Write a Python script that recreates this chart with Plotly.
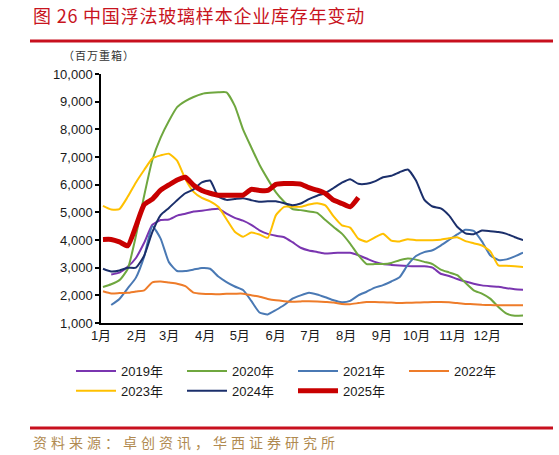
import pandas as pd
import plotly.graph_objects as go

# weekly sample-inventory readings (million weight boxes), one list per year
weeks = pd.date_range("2021-01-02 17:00", periods=52, freq="171h")

inv_2019 = [None, 2750, 2820, 3030, 3350, 3900, 4550, 4720, 4740, 4880, 4950, 5030, 5060, 5100,
            5130, 4950, 4800, 4700, 4550, 4350, 4220, 4150, 4100, 3920, 3720, 3620, 3570, 3510,
            3530, 3540, 3540, 3450, 3330, 3210, 3130, 3100, 3080, 3060, 3050, 3050, 3000, 2780,
            2700, 2590, 2500, 2420, 2360, 2330, 2310, 2260, 2220, 2200]
inv_2020 = [2300, 2400, 2550, 2950, 4150, 5600, 6900, 7700, 8300, 8800, 9020, 9170, 9280, 9320,
            9340, 9340, 8850, 8000, 7350, 6720, 6200, 5720, 5380, 5120, 5080, 5030, 4980, 4720,
            4470, 4230, 3870, 3450, 3130, 3130, 3130, 3170, 3270, 3330, 3290, 3210, 3130, 2930,
            2830, 2730, 2450, 2180, 2060, 1880, 1580, 1340, 1260, 1270]
inv_2021 = [None, 1650, 1870, 2250, 2640, 3400, 4500, 4050, 3200, 2880, 2880, 2930, 2990, 2960,
            2680, 2480, 2320, 2190, 1800, 1380, 1310, 1470, 1650, 1880, 2000, 2090, 2030, 1930,
            1820, 1750, 1800, 2000, 2130, 2280, 2370, 2500, 2650, 3100, 3420, 3560, 3630, 3800,
            4000, 4200, 4370, 4330, 3950, 3450, 3280, 3300, 3410, 3540]
inv_2022 = [2150, 2070, 2080, 2090, 2140, 2180, 2470, 2500, 2460, 2420, 2330, 2100, 2060, 2050,
            2040, 2060, 2060, 2060, 2000, 1950, 1870, 1820, 1790, 1770, 1780, 1790, 1780, 1760,
            1740, 1690, 1680, 1720, 1760, 1760, 1750, 1740, 1720, 1730, 1740, 1750, 1760, 1760,
            1750, 1720, 1690, 1680, 1660, 1650, 1640, 1640, 1640, 1640]
inv_2023 = [5230, 5100, 5120, 5560, 6080, 6530, 6950, 7060, 7120, 6870, 6200, 5740, 5520, 5400,
            5200, 4750, 4300, 4120, 4270, 4200, 4080, 4900, 5200, 5200, 5200, 5280, 5330, 5250,
            4850, 4530, 4450, 4050, 3940, 4090, 4230, 3980, 3950, 4030, 3990, 3990, 3990, 4010,
            4060, 4100, 3960, 3880, 3800, 3600, 3080, 3070, 3050, 3020]
inv_2024 = [2960, 2860, 2900, 3000, 3000, 3430, 4290, 4900, 5160, 5440, 5690, 5830, 6080, 6150,
            5570, 5450, 5480, 5510, 5440, 5380, 5400, 5400, 5330, 5260, 5320, 5480, 5600, 5700,
            5880, 6070, 6200, 6030, 6030, 6120, 6270, 6320, 6450, 6550, 6150, 5460, 5210, 5140,
            4890, 4480, 4240, 4210, 4340, 4320, 4290, 4220, 4100, 4000]
inv_2025 = [4020, 4020, 3930, 3790, 4500, 5280, 5480, 5800, 5990, 6170, 6270, 5980, 5790, 5690,
            5620, 5620, 5620, 5620, 5830, 5790, 5790, 6010, 6040, 6040, 6020, 5890, 5800, 5680,
            5440, 5320, 5200, 5540]

year_names = ["2019年", "2020年", "2021年", "2022年", "2023年", "2024年", "2025年"]
month_labels = [f"{m}月" for m in range(1, 13)]
month_starts = pd.date_range("2021-01-01", periods=12, freq="MS")

series = [inv_2019, inv_2020, inv_2021, inv_2022, inv_2023, inv_2024, inv_2025]
colors = ["#7A35B0", "#6FA73F", "#4A79B4", "#EE7C2A", "#FFC000", "#1B2F6B", "#C80000"]
widths = [2, 2, 2, 2, 2, 2, 5]

W, H = 559, 455
L, R, T, B = 101, 36, 74, 132
pw, ph = W - L - R, H - T - B


def px_x(px):
    return (px - L) / pw


def px_y(py):
    return (H - B - py) / ph


fig = go.Figure()
for name, vals, c, w in zip(year_names, series, colors, widths):
    fig.add_trace(go.Scatter(x=weeks[:len(vals)], y=vals, name=name, mode="lines",
                             line=dict(color=c, width=w, shape="spline", smoothing=0.5),
                             connectgaps=False))

cjk = "Noto Sans CJK SC"
sans = "Liberation Sans, Arial, Noto Sans CJK SC"

fig.update_layout(
    width=W, height=H,
    margin=dict(l=L, r=R, t=T, b=B),
    paper_bgcolor="white", plot_bgcolor="white",
    font=dict(family=sans, size=13, color="#1a1a1a"),
    showlegend=True,
    legend=dict(orientation="h", x=px_x(71), y=px_y(356), xanchor="left", yanchor="top",
                entrywidth=56, itemwidth=40, font=dict(size=13, family=sans),
                bgcolor="rgba(0,0,0,0)", traceorder="normal"),
    xaxis=dict(type="date", range=["2021-01-01", "2022-01-01"], tickvals=month_starts,
               ticktext=month_labels, showline=True, linecolor="black", linewidth=1.5,
               showgrid=False, zeroline=False, ticks="", tickfont=dict(size=13)),
    yaxis=dict(range=[1000, 10000], dtick=1000, tickformat=",", showline=True,
               linecolor="black", linewidth=1.5, showgrid=False, zeroline=False,
               ticks="outside", ticklen=4, tickwidth=1.5, tickcolor="black",
               tickfont=dict(size=13)),
)

# title, unit, source and the red rules
fig.add_annotation(text='<span style="letter-spacing:0.8px">图 26 中国浮法玻璃样本企业库存年变动</span>',
                   x=px_x(31), y=px_y(15), xref="paper", yref="paper", xanchor="left",
                   yanchor="middle", showarrow=False,
                   font=dict(family=cjk, size=18, color="#C8141E"))
fig.add_annotation(text='<span style="letter-spacing:1px">（百万重箱）</span>',
                   x=px_x(99), y=px_y(55), xref="paper", yref="paper", xanchor="center",
                   yanchor="middle", showarrow=False,
                   font=dict(family=cjk, size=11, color="#333333"))
fig.add_annotation(text='<span style="letter-spacing:4px">资料来源：卓创资讯，华西证券研究所</span>',
                   x=px_x(31), y=px_y(442), xref="paper", yref="paper", xanchor="left",
                   yanchor="middle", showarrow=False,
                   font=dict(family=cjk, size=14, color="#B08A50"))
for y_px in (41, 428):
    fig.add_shape(type="line", xref="paper", yref="paper", x0=px_x(30), x1=px_x(553),
                  y0=px_y(y_px), y1=px_y(y_px), line=dict(color="#C8101E", width=3))

# drop the browser's default page margin so the figure sits at the window corner
fig.write_html("out.html", config={"displayModeBar": False},
               post_script="document.body.style.margin='0px';")
